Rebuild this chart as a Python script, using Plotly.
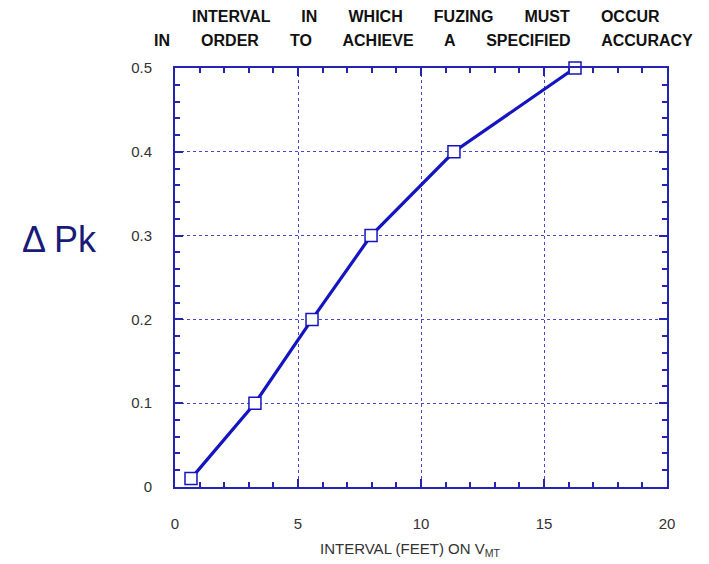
import plotly.graph_objects as go

interval_ft = [0.65, 3.25, 5.57, 7.97, 11.34, 16.26]
delta_pk = [0.01, 0.10, 0.20, 0.30, 0.40, 0.50]

x_ticks = [0, 5, 10, 15, 20]
y_ticks = [0, 0.1, 0.2, 0.3, 0.4, 0.5]
y_tick_text = ["0", "0.1", "0.2", "0.3", "0.4", "0.5"]

title_line1 = "INTERVAL       IN       WHICH       FUZING       MUST       OCCUR"
title_line2 = "IN       ORDER       TO       ACHIEVE       A       SPECIFIED       ACCURACY"
y_label = "Δ Pk"
x_label = "INTERVAL (FEET) ON V<sub>MT</sub>"

blue = "#1414c0"
axis_blue = "#2424b0"
grid_blue = "#4646d0"

fig = go.Figure()
fig.add_trace(go.Scatter(
    x=interval_ft, y=delta_pk, mode="lines+markers",
    line=dict(color=blue, width=3.2),
    marker=dict(symbol="square", size=12, color="white",
                line=dict(color=blue, width=1.5)),
    showlegend=False, cliponaxis=False,
))

axis_common = dict(
    showline=True, linecolor=axis_blue, linewidth=2, mirror="ticks",
    ticks="inside", tickcolor=axis_blue, ticklen=8, tickwidth=1.5,
    showgrid=True, gridcolor=grid_blue, griddash="dot", gridwidth=1.2,
    zeroline=False,
    tickfont=dict(family="Liberation Sans, Arial", size=15, color="#333333"),
)

fig.update_xaxes(
    range=[0, 20], tickvals=x_ticks, ticklabelstandoff=22,
    minor=dict(dtick=1, ticks="inside", ticklen=5, tickcolor=axis_blue, showgrid=False),
    **axis_common,
)
fig.update_yaxes(
    range=[0, 0.5], tickvals=y_ticks, ticktext=y_tick_text, ticklabelstandoff=18,
    minor=dict(dtick=0.02, ticks="inside", ticklen=5, tickcolor=axis_blue, showgrid=False),
    **axis_common,
)

title_font = dict(family="Liberation Sans, Arial", size=16, color="#111111")
annotations = [
    dict(text="<b>" + title_line1 + "</b>", x=0.51, y=1.122, xref="paper", yref="paper",
         xanchor="center", yanchor="middle", showarrow=False, font=title_font),
    dict(text="<b>" + title_line2 + "</b>", x=0.505, y=1.065, xref="paper", yref="paper",
         xanchor="center", yanchor="middle", showarrow=False, font=title_font),
    dict(text=y_label, x=-0.315, y=0.59, xref="paper", yref="paper",
         xanchor="left", yanchor="middle", showarrow=False,
         font=dict(family="Liberation Sans, Arial", size=36, color="#1a1a78")),
    dict(text=x_label, x=0.477, y=-0.15, xref="paper", yref="paper",
         xanchor="center", yanchor="middle", showarrow=False,
         font=dict(family="Liberation Sans, Arial", size=15, color="#333333")),
]

fig.update_layout(
    width=709, height=564,
    margin=dict(l=167, r=50, t=60, b=85),
    paper_bgcolor="white", plot_bgcolor="white",
    annotations=annotations,
)

fig.write_html("out.html")
